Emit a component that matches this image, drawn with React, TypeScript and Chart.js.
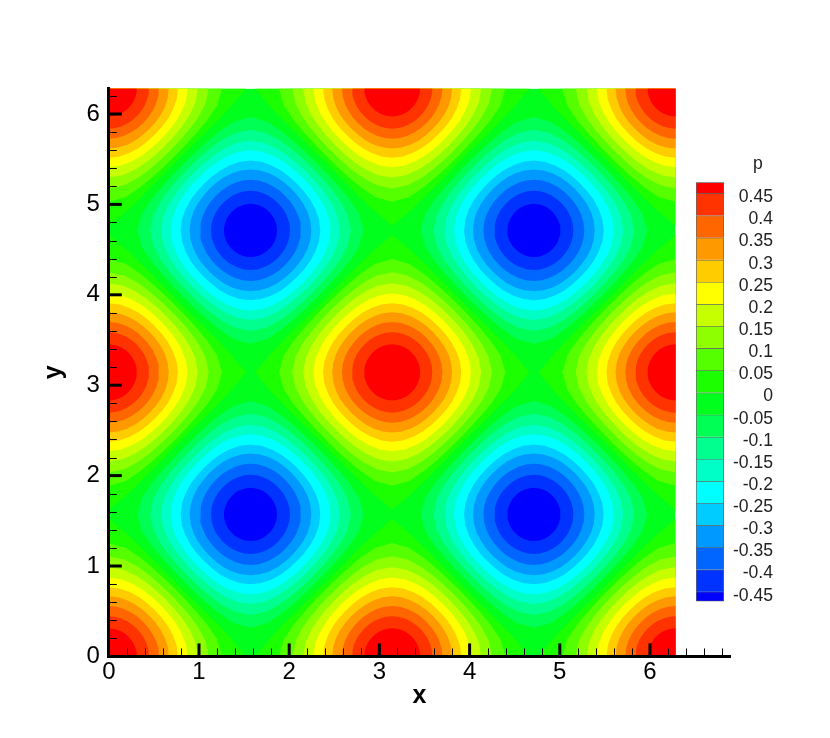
import React, { useEffect, useRef } from "react";
import { Chart, registerables } from "chart.js";

Chart.register(...registerables);

const PI_VALUE = 3.14159;
const DOMAIN_MAX = 6.28318;

const xAxisMax = 6.887;
const xMajorTicks = [1, 2, 3, 4, 5, 6];
const yMajorTicks = [1, 2, 3, 4, 5, 6];
const xMinorTicks = [0.2, 0.4, 0.6, 0.8, 1.2, 1.4, 1.6, 1.8, 2.2, 2.4, 2.6, 2.8, 3.2, 3.4, 3.6, 3.8, 4.2, 4.4, 4.6, 4.8, 5.2, 5.4, 5.6, 5.8, 6.2, 6.4, 6.6, 6.8];
const yMinorTicks = [0.2, 0.4, 0.6, 0.8, 1.2, 1.4, 1.6, 1.8, 2.2, 2.4, 2.6, 2.8, 3.2, 3.4, 3.6, 3.8, 4.2, 4.4, 4.6, 4.8, 5.2, 5.4, 5.6, 5.8, 6.2];

// Peaks and troughs of the field p
const peakCentres = [
  [0, 0], [PI_VALUE, 0], [DOMAIN_MAX, 0],
  [0, PI_VALUE], [PI_VALUE, PI_VALUE], [DOMAIN_MAX, PI_VALUE],
  [0, DOMAIN_MAX], [PI_VALUE, DOMAIN_MAX], [DOMAIN_MAX, DOMAIN_MAX],
];
const troughCentres = [
  [1.5708, 1.5708], [4.71239, 1.5708],
  [1.5708, 4.71239], [4.71239, 4.71239],
];

// Radius of each contour, sampled every 9 degrees from 0 to 45 (outermost first)
const contourLevels = [0, 0.05, 0.1, 0.15, 0.2, 0.25, 0.3, 0.35, 0.4, 0.45];
const contourRadii = [
  [1.52, 1.36, 1.24, 1.16, 1.115, 1.1],
  [1.249, 1.209, 1.1396, 1.0842, 1.0509, 1.0399],
  [1.1071, 1.0853, 1.042, 1.0024, 0.9769, 0.9683],
  [0.9912, 0.9781, 0.9493, 0.9206, 0.9018, 0.8953],
  [0.8861, 0.8778, 0.8586, 0.8388, 0.8247, 0.8197],
  [0.7854, 0.7811, 0.7678, 0.756, 0.7448, 0.7405],
  [0.6847, 0.6819, 0.6747, 0.6657, 0.6585, 0.6557],
  [0.5796, 0.578, 0.5737, 0.5683, 0.564, 0.5624],
  [0.4636, 0.4628, 0.4606, 0.458, 0.4558, 0.455],
  [0.3218, 0.3215, 0.3208, 0.3199, 0.3192, 0.3189],
];
// Size of each contour as measured around the peaks and around the troughs
const peakRadiusScale = [1, 1.005, 1, 0.995, 0.985, 0.975, 0.97, 0.96, 0.96, 0.965];
const troughRadiusScale = [1, 1.005, 1.005, 1, 1, 0.985, 0.985, 0.965, 0.945, 0.915];
const peakColors = ["#1cff00", "#55ff00", "#8eff00", "#c6ff00", "#ffff00", "#ffcc00", "#ff9900", "#ff6600", "#ff3300", "#ff0000"];
const troughColors = ["#00ff1c", "#00ff55", "#00ff8e", "#00ffc6", "#00ffff", "#00ccff", "#0099ff", "#0066ff", "#0033ff", "#0000ff"];
const baseColor = "#00ff1c";
const domainCorners = [
  { x: 0, y: 0 }, { x: DOMAIN_MAX, y: 0 }, { x: DOMAIN_MAX, y: DOMAIN_MAX }, { x: 0, y: DOMAIN_MAX }, { x: 0, y: 0 },
];

// Colour bar
const barTitle = "p";
const barTickValues = [0.45, 0.4, 0.35, 0.3, 0.25, 0.2, 0.15, 0.1, 0.05, 0, -0.05, -0.1, -0.15, -0.2, -0.25, -0.3, -0.35, -0.4, -0.45];
const barEdges = [0.484, 0.459, 0.409, 0.359, 0.309, 0.259, 0.209, 0.159, 0.109, 0.059, 0.009, -0.041, -0.091, -0.141, -0.191, -0.241, -0.291, -0.341, -0.391, -0.441, -0.463];
const barColors = ["#ff0000", "#ff3300", "#ff6600", "#ff9900", "#ffcc00", "#ffff00", "#c6ff00", "#8eff00", "#55ff00", "#1cff00", "#00ff1c", "#00ff55", "#00ff8e", "#00ffc6", "#00ffff", "#00ccff", "#0099ff", "#0066ff", "#0033ff", "#0000ff"];

const FONT = "'Liberation Sans', Arial, sans-serif";

function contourPath(centre: number[], radii: number[], scale: number) {
  const points: { x: number; y: number }[] = [];
  for (let step = 5; step <= 45; step++) {
    const i = step % 10;
    const r = radii[i <= 5 ? i : 10 - i] * scale;
    const angle = (step * 9 * Math.PI) / 180;
    points.push({ x: centre[0] + r * Math.cos(angle), y: centre[1] + r * Math.sin(angle) });
  }
  return points;
}

function contourDatasets() {
  const common = { showLine: true, pointRadius: 0, borderWidth: 0, tension: 0, fill: "shape" };
  const sets: any[] = [];
  for (let level = contourLevels.length - 1; level >= 0; level--) {
    peakCentres.forEach((c) =>
      sets.push({ ...common, label: `p>${contourLevels[level]}`, data: contourPath(c, contourRadii[level], peakRadiusScale[level]), backgroundColor: peakColors[level] })
    );
    if (level > 0) {
      troughCentres.forEach((c) =>
        sets.push({ ...common, label: `p<-${contourLevels[level]}`, data: contourPath(c, contourRadii[level], troughRadiusScale[level]), backgroundColor: troughColors[level] })
      );
    }
  }
  sets.push({ ...common, label: "base", data: domainCorners, backgroundColor: baseColor });
  return sets;
}

const plotFrame = {
  id: "plotFrame",
  beforeDatasetsDraw(chart: any) {
    const { ctx, scales } = chart;
    const left = scales.x.getPixelForValue(0);
    const right = scales.x.getPixelForValue(DOMAIN_MAX);
    const top = scales.y.getPixelForValue(DOMAIN_MAX);
    const bottom = scales.y.getPixelForValue(0);
    ctx.save();
    ctx.beginPath();
    ctx.rect(left, top, right - left, bottom - top);
    ctx.clip();
  },
  afterDatasetsDraw(chart: any) {
    const { ctx, scales } = chart;
    ctx.restore();
    const x = scales.x;
    const y = scales.y;
    const bottom = y.getPixelForValue(0);
    const left = x.getPixelForValue(0);
    ctx.save();
    ctx.strokeStyle = "#000";
    const mark = (x1: number, y1: number, x2: number, y2: number, w: number) => {
      ctx.lineWidth = w;
      ctx.beginPath();
      ctx.moveTo(x1, y1);
      ctx.lineTo(x2, y2);
      ctx.stroke();
    };
    xMinorTicks.forEach((v) => { const p = Math.round(x.getPixelForValue(v)) + 0.5; mark(p, bottom, p, bottom - 8, 1); });
    yMinorTicks.forEach((v) => { const p = Math.round(y.getPixelForValue(v)) + 0.5; mark(left, p, left + 8, p, 1); });
    xMajorTicks.forEach((v) => { const p = x.getPixelForValue(v); mark(p, bottom, p, bottom - 13, 3); });
    yMajorTicks.forEach((v) => { const p = y.getPixelForValue(v); mark(left, p, left + 13, p, 3); });
    ctx.restore();
  },
};

const barCaption = {
  id: "barCaption",
  afterDraw(chart: any) {
    const { ctx, scales } = chart;
    ctx.save();
    ctx.fillStyle = "#222";
    ctx.font = `17.6px ${FONT}`;
    ctx.textAlign = "center";
    ctx.textBaseline = "alphabetic";
    ctx.fillText(barTitle, scales.y.right - 15, 19);
    ctx.restore();
  },
};

export default function App() {
  const mainRef = useRef<HTMLCanvasElement>(null);
  const barRef = useRef<HTMLCanvasElement>(null);

  useEffect(() => {
    const main = new Chart(mainRef.current as HTMLCanvasElement, {
      type: "scatter",
      data: { datasets: contourDatasets() },
      plugins: [plotFrame],
      options: {
        animation: false,
        responsive: false,
        events: [],
        layout: { padding: { left: 0, top: 88.4, right: 100, bottom: 0 } },
        plugins: { legend: { display: false }, tooltip: { enabled: false } },
        scales: {
          x: {
            type: "linear",
            min: 0,
            max: xAxisMax,
            grid: { display: false, drawTicks: false },
            border: { display: true, color: "#000", width: 3, z: 2 },
            ticks: {
              stepSize: 1,
              includeBounds: false,
              padding: 2,
              color: "#000",
              font: { family: FONT, size: 24 },
              maxRotation: 0,
            },
            title: { display: true, text: "x", color: "#000", font: { family: FONT, size: 25, weight: "bold" }, padding: { top: 1, bottom: 27 } },
            afterFit: (s: any) => { s.height = 81.6; },
          },
          y: {
            type: "linear",
            min: 0,
            max: DOMAIN_MAX,
            grid: { display: false, drawTicks: false },
            border: { display: true, color: "#000", width: 3, z: 2 },
            ticks: {
              stepSize: 1,
              includeBounds: false,
              padding: 9,
              color: "#000",
              font: { family: FONT, size: 24 },
            },
            title: { display: true, text: "y", color: "#000", font: { family: FONT, size: 25, weight: "bold" }, padding: { top: 39, bottom: 0 } },
            afterFit: (s: any) => { s.width = 108.8; },
          },
        },
      },
    } as any);

    const bar = new Chart(barRef.current as HTMLCanvasElement, {
      type: "bar",
      data: {
        labels: ["p"],
        datasets: barColors.map((color, i) => ({
          label: String(i),
          data: [[barEdges[i + 1], barEdges[i]]],
          backgroundColor: color,
          borderColor: "rgba(0,0,0,0.6)",
          borderWidth: { top: 1, left: 1, right: 1, bottom: i === barColors.length - 1 ? 1 : 0 },
          borderSkipped: false,
          grouped: false,
          barPercentage: 1,
          categoryPercentage: 1,
        })),
      },
      plugins: [barCaption],
      options: {
        animation: false,
        responsive: false,
        events: [],
        layout: { padding: { left: 6, top: 32.3, right: 51, bottom: 17.7 } },
        plugins: { legend: { display: false }, tooltip: { enabled: false } },
        scales: {
          x: { display: false, stacked: false },
          y: {
            position: "right",
            min: barEdges[barEdges.length - 1],
            max: barEdges[0],
            grid: { display: false, drawTicks: false },
            border: { display: false },
            afterBuildTicks: (s: any) => { s.ticks = barTickValues.map((value) => ({ value })); },
            ticks: {
              padding: 8,
              crossAlign: "far",
              color: "#222",
              autoSkip: false,
              font: { family: FONT, size: 17.6 },
              callback: (v: any) => String(v),
            },
            afterFit: (s: any) => { s.width = 49; },
          },
        },
      },
    } as any);

    return () => {
      main.destroy();
      bar.destroy();
    };
  }, []);

  return (
    <div style={{ position: "absolute", left: 0, top: 0, width: 830, height: 738, background: "#fff" }}>
      <canvas ref={mainRef} width={830} height={738} style={{ position: "absolute", left: 0, top: 0 }} />
      <canvas ref={barRef} width={134} height={470} style={{ position: "absolute", left: 690, top: 150 }} />
    </div>
  );
}
